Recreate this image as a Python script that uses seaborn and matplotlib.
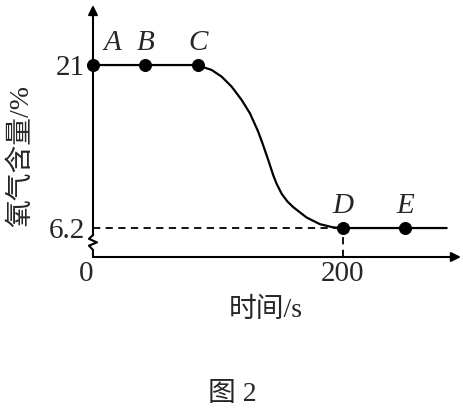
import matplotlib
matplotlib.use("Agg")
import matplotlib.pyplot as plt
import seaborn as sns
import pandas as pd

# ---- data ----
line_time = [0, 42, 84, 87, 95, 103, 111, 119, 125.6, 132, 135.6, 140, 144.2, 147, 151,
             155.5, 160.2, 171, 181.6, 192.2, 200, 250, 283]
line_o2 = [21, 21, 21, 20.85, 20.55, 19.94, 19.03, 17.82, 16.61, 15.0, 13.9, 12.45,
           11.0, 10.2, 9.3, 8.62, 8.1, 7.15, 6.55, 6.26, 6.2, 6.2, 6.2]

point_labels = ["A", "B", "C", "D", "E"]
point_time = [0, 42, 84, 200, 250]
point_o2 = [21, 21, 21, 6.2, 6.2]

x_ticks = [0, 200]
x_tick_labels = ["0", "200"]
y_ticks = [6.2, 21]
y_tick_labels = ["6.2", "21"]

x_label = "时间/s"
y_label = "氧气含量/%"
caption = "图 2"

sns.set_theme(style="white")
fam = ["Liberation Serif", "Noto Sans CJK SC", "DejaVu Sans"]
plt.rcParams["font.family"] = fam

fig = plt.figure(figsize=(4.64, 4.08), dpi=100)
ax = fig.add_axes([0.2004, 0.3701, 0.793, 0.6176])

line_df = pd.DataFrame({"t": line_time, "o2": line_o2})
pt_df = pd.DataFrame({"t": point_time, "o2": point_o2, "lab": point_labels})

sns.lineplot(data=line_df, x="t", y="o2", ax=ax, color="black", lw=1.6,
             sort=False, estimator=None, clip_on=False)
sns.scatterplot(data=pt_df, x="t", y="o2", ax=ax, color="black", s=75,
                edgecolor="black", zorder=5, clip_on=False, legend=False)

ax.set_xlim(0, 294.4)
ax.set_ylim(3.57, 26.45)

# dashed reference lines at D
ax.plot([0, point_time[3]], [point_o2[3], point_o2[3]], ls=(0, (4, 3)), color="black", lw=1.3)
ax.plot([point_time[3], point_time[3]], [3.57, point_o2[3]], ls=(0, (4, 3)), color="black", lw=1.3)

# point labels
for lab, t, v in zip(point_labels, point_time, point_o2):
    dx = 14 if t == 0 else 0
    ax.annotate(lab, (t, v), xytext=(dx, 16), textcoords="offset points",
                ha="center", va="center", fontsize=21, style="italic",
                family=fam)

# ticks
ax.set_xticks(x_ticks)
ax.set_xticklabels(x_tick_labels, fontsize=21)
ax.set_yticks(y_ticks)
ax.set_yticklabels(y_tick_labels, fontsize=21)
ax.tick_params(axis="both", length=0)
ax.tick_params(axis="x", pad=3)
ax.tick_params(axis="y", pad=6)
ax.get_xticklabels()[0].set_ha("right")

for sp in ax.spines.values():
    sp.set_visible(False)

# axes with arrows
ax.annotate("", xy=(1.0, 0), xytext=(0, 0), xycoords="axes fraction",
            arrowprops=dict(arrowstyle="-|>", lw=1.5, color="black", mutation_scale=14,
                            shrinkA=0, shrinkB=0))
ax.annotate("", xy=(0, 1.0), xytext=(0, 0.087), xycoords="axes fraction",
            arrowprops=dict(arrowstyle="-|>", lw=1.5, color="black", mutation_scale=14,
                            shrinkA=0, shrinkB=0))
zx = [0, 0, -0.011, 0.011, -0.011, 0.0, 0.0]
zy = [0.0, 0.028, 0.045, 0.058, 0.072, 0.087, 0.087]
ax.plot(zx, zy, transform=ax.transAxes, color="black", lw=1.5, clip_on=False)

ax.set_xlabel(x_label, fontsize=20)
ax.set_ylabel(y_label, fontsize=20)
ax.xaxis.set_label_coords(0.47, -0.163)
ax.yaxis.set_label_coords(-0.16, 0.40)

fig.text(0.5, 0.033, caption, ha="center", va="center", fontsize=20)

fig.savefig("out.png", dpi=100, facecolor="white")
